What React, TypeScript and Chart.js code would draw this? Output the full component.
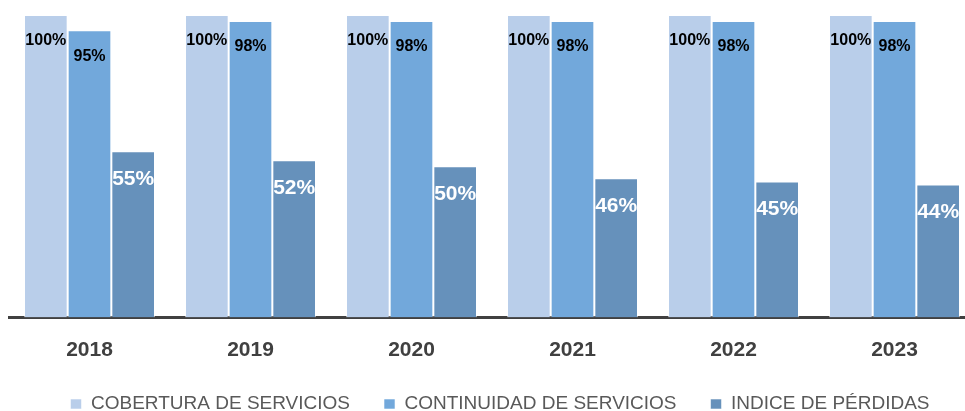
import React, { useEffect, useRef } from "react";
import { Chart, registerables } from "chart.js";

Chart.register(...registerables);

const years = ["2018", "2019", "2020", "2021", "2022", "2023"];
const cobertura = [100, 100, 100, 100, 100, 100];
const continuidad = [95, 98, 98, 98, 98, 98];
const perdidas = [55, 52, 50, 46, 45, 44];
const seriesNames = ["COBERTURA DE SERVICIOS", "CONTINUIDAD DE SERVICIOS", "INDICE DE PÉRDIDAS"];

const FONT = "'Liberation Sans', Arial, sans-serif";

const valueLabels = {
  id: "valueLabels",
  afterDatasetsDraw(chart: any) {
    const ctx = chart.ctx;
    chart.data.datasets.forEach((ds: any, i: number) => {
      const meta = chart.getDatasetMeta(i);
      meta.data.forEach((bar: any, j: number) => {
        const v = ds.data[j];
        ctx.save();
        ctx.textAlign = "center";
        ctx.textBaseline = "middle";
        if (i < 2) {
          ctx.font = `bold 16px ${FONT}`;
          ctx.fillStyle = "#000000";
          ctx.fillText(v + "%", bar.x, bar.y + 26);
        } else {
          ctx.font = `bold 21px ${FONT}`;
          ctx.fillStyle = "#ffffff";
          ctx.fillText(v + "%", bar.x, bar.y + 28);
        }
        ctx.restore();
      });
    });
  },
};

const shiftLegend = {
  id: "shiftLegend",
  afterLayout(chart: any) {
    const l = chart.legend;
    if (!l) return;
    l.top -= 3;
    l.bottom = chart.height;
    l.height = l.bottom - l.top;
    l.left += 8;
    l.right += 8;
  },
};

export default function App() {
  const ref = useRef<HTMLCanvasElement | null>(null);

  useEffect(() => {
    if (!ref.current) return;
    const chart = new Chart(ref.current, {
      type: "bar",
      data: {
        labels: years,
        datasets: [
          {
            label: seriesNames[0],
            data: cobertura,
            backgroundColor: "#B9CEEA",
            borderColor: "rgba(255,255,255,0.55)",
            borderWidth: 1,
          },
          {
            label: seriesNames[1],
            data: continuidad,
            backgroundColor: "#72A8DB",
            borderColor: "rgba(255,255,255,0.55)",
            borderWidth: 1,
          },
          {
            label: seriesNames[2],
            data: perdidas,
            backgroundColor: "#6691BB",
            borderColor: "rgba(255,255,255,0.55)",
            borderWidth: 1,
          },
        ],
      },
      options: {
        responsive: false,
        animation: false,
        events: [],
        layout: { padding: { top: 15, left: 9, right: 15, bottom: 0 } },
        datasets: {
          bar: { categoryPercentage: 0.8137, barPercentage: 1 },
        },
        scales: {
          x: {
            grid: { display: false, drawTicks: false },
            border: { display: true, color: "#404040", width: 3 },
            ticks: {
              color: "#404040",
              font: { family: FONT, size: 21, weight: "bold" },
              padding: 20,
            },
            afterFit: (s: any) => {
              s.height = 46;
            },
          },
          y: {
            display: false,
            min: 0,
            max: 100,
          },
        },
        plugins: {
          legend: {
            position: "bottom",
            maxHeight: 47.5,
            labels: {
              boxWidth: 11,
              boxHeight: 10,
              padding: 34,
              color: "#595959",
              font: { family: FONT, size: 19 },
            },
          },
          tooltip: { enabled: false },
        },
      },
      plugins: [valueLabels, shiftLegend],
    });
    return () => chart.destroy();
  }, []);

  return (
    <div
      style={{
        position: "absolute",
        left: 0,
        top: 0,
        width: 965,
        height: 411,
        overflow: "hidden",
        background: "#ffffff",
      }}
    >
      <canvas ref={ref} width={990} height={411} style={{ display: "block" }} />
    </div>
  );
}
